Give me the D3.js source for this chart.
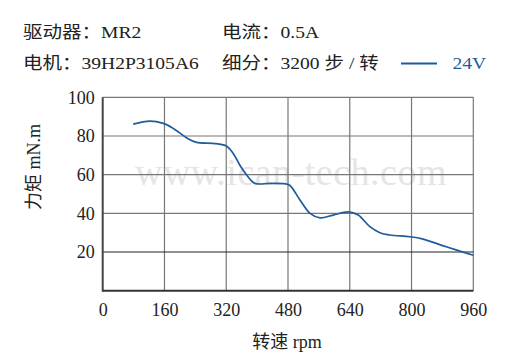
<!DOCTYPE html>
<html><head><meta charset="utf-8">
<script src="https://cdn.jsdelivr.net/npm/d3@7"></script>
<style>body{margin:0;background:#fff}svg{display:block}</style>
</head><body>
<svg id="c" width="520" height="360"></svg>
<script>
const rpm    = [79, 122, 157, 183, 217, 243, 286, 319, 338, 355, 373, 394, 433, 472, 485, 511, 537, 563, 597, 636, 662, 692, 718, 744, 796, 830, 890, 960];
const torque = [86.1, 87.7, 86.5, 83.9, 79.1, 76.7, 76.2, 74.9, 71.0, 65.0, 59.8, 55.5, 55.5, 55.3, 54.4, 46.9, 40.0, 37.7, 39.1, 40.8, 39.1, 33.1, 30.0, 28.8, 27.9, 26.7, 22.7, 18.3];
const xTicks = [0, 160, 320, 480, 640, 800, 960];
const yTicks = [20, 40, 60, 80, 100];
const seriesName = "24V";
const header = [["驱动器：MR2", "电流：0.5A"], ["电机：39H2P3105A6", "细分：3200 步 / 转"]];

const svg = d3.select("#c");
const serif = "'Liberation Serif','Times New Roman','Noto Sans CJK SC',serif";
const L = 102.7, R = 473.3, T = 97.3, B = 290.7;
const x = d3.scaleLinear().domain([0, 960]).range([L, R]);
const y = d3.scaleLinear().domain([0, 100]).range([B, T]);
const blue = "#1f5c99";
const sx = 1.15;

// header
header.forEach((row, i) => {
  row.forEach((t, j) => {
    svg.append("text").attr("transform", `translate(${j ? 222 : 23},${37.5 + i * 31.5}) scale(${sx},1)`)
      .attr("font-family", serif).attr("font-size", 17).attr("fill", "#222").text(t);
  });
});
svg.append("line").attr("x1", 401).attr("x2", 437).attr("y1", 63.5).attr("y2", 63.5)
  .attr("stroke", blue).attr("stroke-width", 1.8);
svg.append("text").attr("transform", `translate(452.5,69) scale(${sx},1)`).attr("font-family", serif)
  .attr("font-size", 17).attr("fill", blue).text(seriesName);

// watermark
svg.append("text").attr("x", (L + R) / 2 + 3).attr("y", 185).attr("text-anchor", "middle")
  .attr("font-family", serif).attr("font-size", 38).attr("fill", "#e5e5e5")
  .attr("letter-spacing", 0.5).text("www.ican-tech.com");

// grid
const g = svg.append("g");
xTicks.slice(1).forEach(v => g.append("line").attr("x1", x(v)).attr("x2", x(v)).attr("y1", T).attr("y2", B)
  .attr("stroke", "#777").attr("stroke-width", 1.2));
yTicks.forEach(v => g.append("line").attr("x1", L).attr("x2", R).attr("y1", y(v)).attr("y2", y(v))
  .attr("stroke", v === 20 ? "#222" : "#777").attr("stroke-width", 1.2));
g.append("line").attr("x1", L).attr("x2", L).attr("y1", T).attr("y2", B + 1).attr("stroke", "#444").attr("stroke-width", 2);
g.append("line").attr("x1", L).attr("x2", R).attr("y1", B).attr("y2", B).attr("stroke", "#333").attr("stroke-width", 2);

// axes labels
const xa = svg.append("g").attr("transform", `translate(0,${B})`)
  .call(d3.axisBottom(x).tickValues(xTicks).tickSize(0).tickPadding(0));
xa.select(".domain").remove();
xa.selectAll("text").attr("y", 25).attr("dy", 0).attr("font-family", serif).attr("font-size", 18).attr("fill", "#222");
const ya = svg.append("g").attr("transform", `translate(${L},0)`)
  .call(d3.axisLeft(y).tickValues(yTicks).tickSize(0).tickPadding(8));
ya.select(".domain").remove();
ya.selectAll("text").attr("font-family", serif).attr("font-size", 18).attr("fill", "#222");

svg.append("text").attr("x", 287).attr("y", 348).attr("text-anchor", "middle")
  .attr("font-family", serif).attr("font-size", 18).attr("fill", "#222").text("转速 rpm");
svg.append("text").attr("transform", "translate(40,167) rotate(-90)").attr("text-anchor", "middle")
  .attr("font-family", serif).attr("font-size", 18).attr("fill", "#222").text("力矩 mN.m");

// curve
const pts = rpm.map((r, i) => [r, torque[i]]);
svg.append("path").datum(pts)
  .attr("d", d3.line().x(d => x(d[0])).y(d => y(d[1])).curve(d3.curveCatmullRom.alpha(0.5)))
  .attr("fill", "none").attr("stroke", blue).attr("stroke-width", 1.7);
</script>
</body></html>
